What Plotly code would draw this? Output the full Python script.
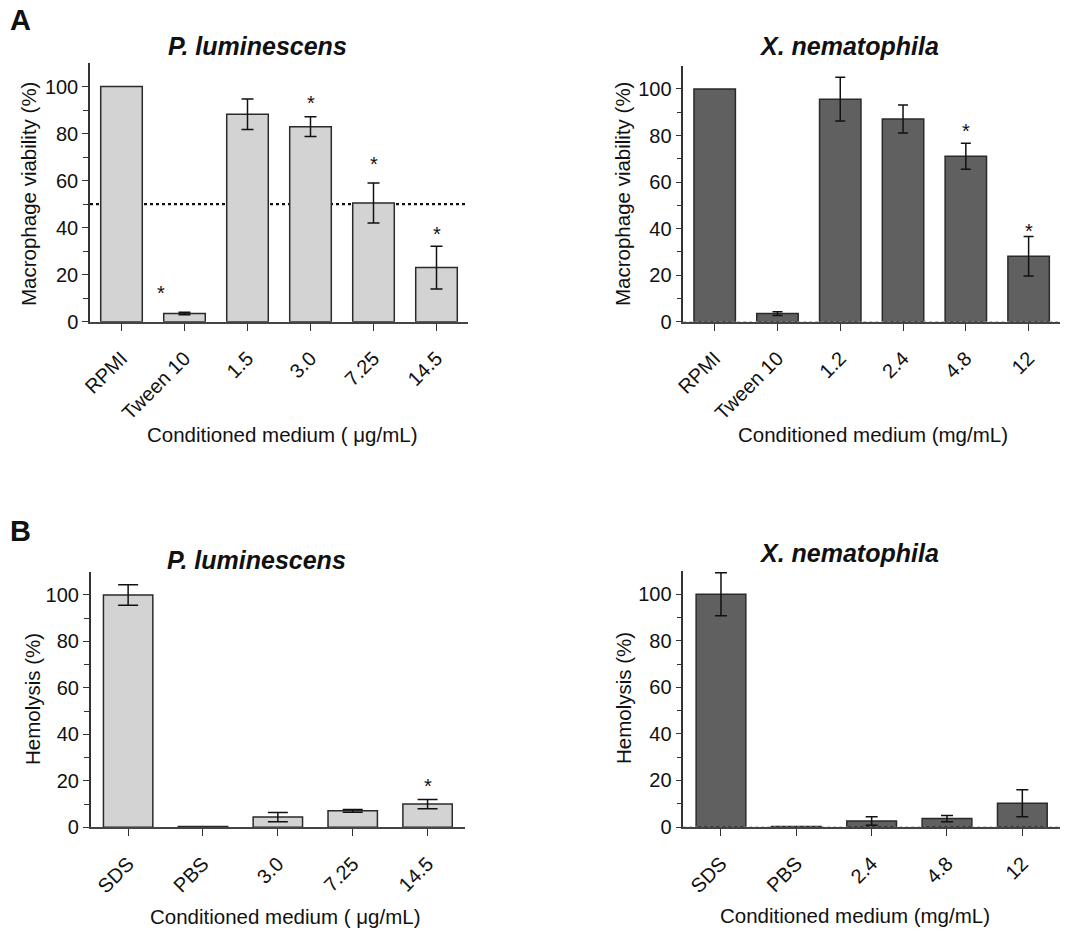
import plotly.graph_objects as go

# ---------------- data ----------------
a_left_cats = ["RPMI", "Tween 10", "1.5", "3.0", "7.25", "14.5"]
a_left_vals = [100, 3.5, 88.2, 82.9, 50.5, 23.0]
a_left_err = [0, 0.5, 6.5, 4.2, 8.5, 9.1]
a_left_star_x = [0.62, 3, 4, 5]
a_left_star_y = [13.5, 94.3, 68.3, 38.4]

a_right_cats = ["RPMI", "Tween 10", "1.2", "2.4", "4.8", "12"]
a_right_vals = [100, 3.5, 95.6, 87.1, 71.1, 28.1]
a_right_err = [0, 0.8, 9.4, 6.0, 5.6, 8.5]
a_right_star_x = [4, 5]
a_right_star_y = [83.1, 40.4]

b_left_cats = ["SDS", "PBS", "3.0", "7.25", "14.5"]
b_left_vals = [100, 0.3, 4.4, 7.1, 10.0]
b_left_err = [4.4, 0, 2.0, 0.6, 2.0]
b_left_star_x = [4]
b_left_star_y = [19.1]

b_right_cats = ["SDS", "PBS", "2.4", "4.8", "12"]
b_right_vals = [100, 0.2, 2.6, 3.6, 10.2]
b_right_err = [9.2, 0, 1.8, 1.3, 5.8]

threshold = 50

W, H = 1078, 929
FONT = "Arial, 'Liberation Sans', sans-serif"
LIGHT = "#d3d3d3"
DARK = "#606060"
EDGE = "#2a2a2a"

fig = go.Figure()

def px_x(p):
    return p / W

def px_y(p):
    return 1 - p / H

panels = [
    (a_left_cats, a_left_vals, a_left_err, LIGHT, "", (90, 468), (63, 321.7), 6, a_left_star_x, a_left_star_y),
    (a_right_cats, a_right_vals, a_right_err, DARK, "2", (683.3, 1060), (65.7, 321.7), 5, a_right_star_x, a_right_star_y),
    (b_left_cats, b_left_vals, b_left_err, LIGHT, "3", (90.7, 465), (571.7, 827.3), 10, b_left_star_x, b_left_star_y),
    (b_right_cats, b_right_vals, b_right_err, DARK, "4", (683.3, 1060), (571, 827), 6, [], []),
]

layout_axes = {}
annotations = []
shapes = []

for cats, vals, err, color, sid, dx, dy, capw, sx, sy in panels:
    xa = "x" + sid
    ya = "y" + sid
    idx = list(range(len(cats)))
    fig.add_trace(go.Bar(
        x=idx, y=vals,
        xaxis=xa, yaxis=ya,
        width=0.66,
        marker=dict(color=color, line=dict(color=EDGE, width=1.5)),
        showlegend=False, hoverinfo="skip",
    ))
    ex = [i for i, e in zip(idx, err) if e > 0]
    ey = [v for v, e in zip(vals, err) if e > 0]
    ee = [e for e in err if e > 0]
    fig.add_trace(go.Scatter(
        x=ex, y=ey, xaxis=xa, yaxis=ya, mode="markers",
        marker=dict(size=1, color="rgba(0,0,0,0)"),
        error_y=dict(type="data", array=ee, visible=True, color="#111111",
                     thickness=1.5, width=capw),
        showlegend=False, hoverinfo="skip",
    ))
    n = len(cats)
    layout_axes["xaxis" + sid] = dict(
        domain=[px_x(dx[0]), px_x(dx[1])], anchor=ya,
        range=[-0.5, n - 0.5], tickmode="array",
        tickvals=idx, ticktext=cats, tickangle=-45,
        ticks="outside", ticklen=7, tickwidth=1.3, tickcolor="#333333",
        ticklabelstandoff=8,
        showline=True, linecolor="#444444", linewidth=2,
        showgrid=False, zeroline=False,
        tickfont=dict(family=FONT, size=20, color="#111111"),
        automargin=False, fixedrange=True,
    )
    layout_axes["yaxis" + sid] = dict(
        domain=[px_y(dy[1]), px_y(dy[0])], anchor=xa,
        range=[0, 110], tickmode="array", tickvals=[0, 20, 40, 60, 80, 100],
        ticks="outside", ticklen=6, tickwidth=1.3, tickcolor="#333333",
        minor=dict(tickmode="array", tickvals=[10, 30, 50, 70, 90],
                   ticks="outside", ticklen=5, tickwidth=1.3, tickcolor="#333333"),
        showline=True, linecolor="#333333", linewidth=1.5,
        showgrid=False, zeroline=False,
        tickfont=dict(family=FONT, size=20, color="#111111"),
        automargin=False, fixedrange=True,
    )
    for x, y in zip(sx, sy):
        annotations.append(dict(x=x, y=y, xref=xa, yref=ya, text="*", showarrow=False,
                                yanchor="middle", yshift=-3,
                                font=dict(family=FONT, size=20, color="#111111")))

shapes.append(dict(type="line", xref="x domain", yref="y", x0=0, x1=1, y0=threshold, y1=threshold,
                   line=dict(color="#111111", width=2.2, dash="dot"), layer="below"))
for sid in ["2", "4"]:
    shapes.append(dict(type="line", xref="x%s domain" % sid, yref="y" + sid, x0=0, x1=1, y0=0, y1=0,
                       line=dict(color="#9a9a9a", width=1, dash="dot"), layer="above"))

def text_ann(text, x, y, size, bold=False, italic=False, angle=0):
    t = text
    if italic:
        t = "<i>" + t + "</i>"
    if bold:
        t = "<b>" + t + "</b>"
    annotations.append(dict(x=px_x(x), y=px_y(y), xref="paper", yref="paper", text=t,
                            showarrow=False, xanchor="center", yanchor="middle",
                            textangle=angle, font=dict(family=FONT, size=size, color="#111111")))

text_ann("A", 20, 20, 29, bold=True)
text_ann("B", 20, 531, 29, bold=True)
text_ann("P. luminescens", 257, 46, 25, bold=True, italic=True)
text_ann("X. nematophila", 849, 46, 25, bold=True, italic=True)
text_ann("P. luminescens", 256, 560, 25, bold=True, italic=True)
text_ann("X. nematophila", 849, 553, 25, bold=True, italic=True)
text_ann("Macrophage viability (%)", 28, 194, 20.5, angle=-90)
text_ann("Macrophage viability (%)", 622, 194, 20.5, angle=-90)
text_ann("Hemolysis (%)", 32, 699, 20.5, angle=-90)
text_ann("Hemolysis (%)", 623, 698, 20.5, angle=-90)
text_ann("Conditioned medium ( μg/mL)", 282, 435, 20.5)
text_ann("Conditioned medium (mg/mL)", 873, 435, 20.5)
text_ann("Conditioned medium ( μg/mL)", 285, 916, 20.5)
text_ann("Conditioned medium (mg/mL)", 855, 915, 20.5)

fig.update_layout(
    width=W, height=H,
    margin=dict(l=0, r=0, t=0, b=0),
    paper_bgcolor="white", plot_bgcolor="white",
    annotations=annotations, shapes=shapes,
    **layout_axes,
)

fig.write_html("out.html", config={"displayModeBar": False},
               post_script="document.body.style.margin='0px';document.body.style.overflow='hidden';")
